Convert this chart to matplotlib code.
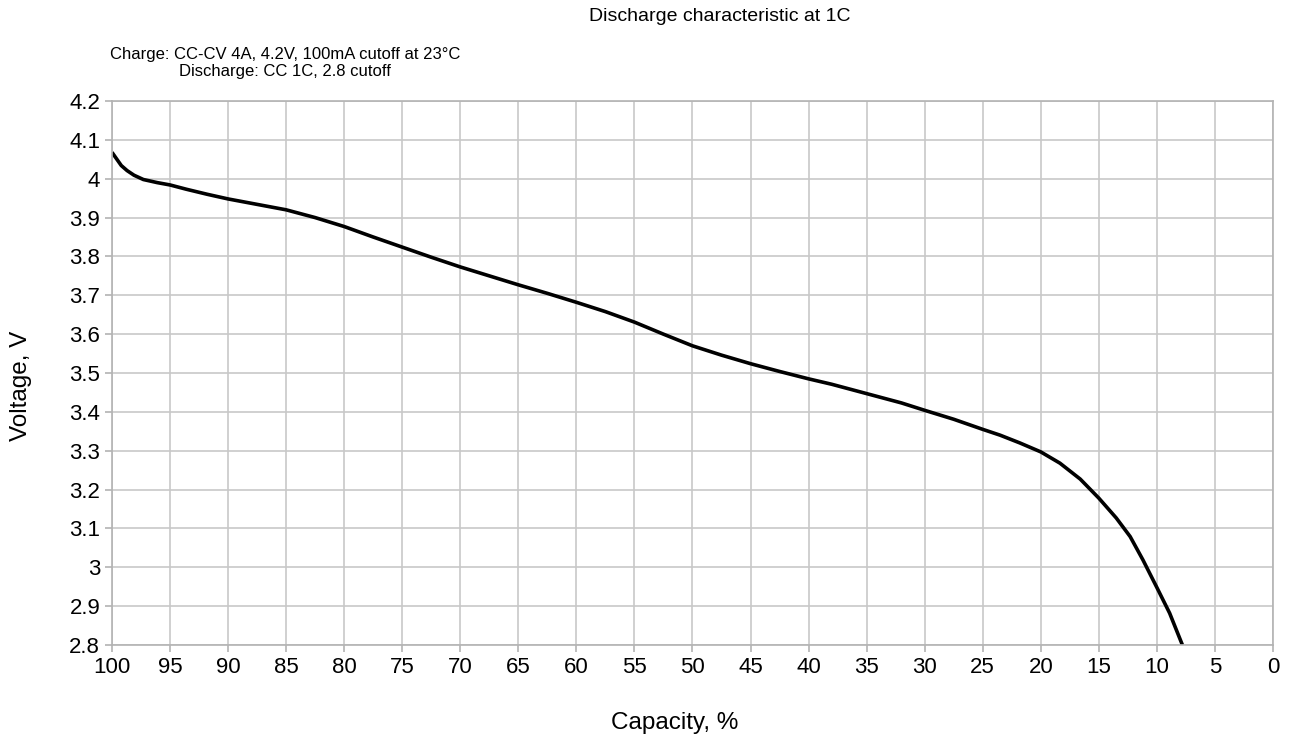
import matplotlib
matplotlib.use('Agg')
import matplotlib.pyplot as plt
import numpy as np

plt.rcParams['font.family'] = ['Liberation Sans', 'DejaVu Sans']

# capacity (%) vs voltage (V)
capacity = [100, 99.6, 99.2, 98.7, 98.1, 97.3, 96.1, 95, 93.6, 91.8, 90,
            87.5, 85, 82.5, 80, 77.5, 75, 72.5, 70, 67.5, 65, 62.5, 60,
            57.5, 55, 52.5, 50, 47.5, 45, 42.5, 40, 38, 35, 32, 30, 27.5,
            25, 23.5, 21.8, 20, 18.35, 16.6, 15, 13.5, 12.3, 11.2, 10,
            8.9, 7.8]
voltage = [4.068, 4.051, 4.034, 4.021, 4.009, 3.998, 3.99, 3.984, 3.973,
           3.96, 3.948, 3.934, 3.92, 3.9, 3.877, 3.85, 3.824, 3.798, 3.773,
           3.75, 3.727, 3.705, 3.682, 3.658, 3.631, 3.6, 3.57, 3.546,
           3.524, 3.504, 3.485, 3.471, 3.447, 3.423, 3.404, 3.381, 3.355,
           3.34, 3.32, 3.297, 3.268, 3.227, 3.178, 3.127, 3.079, 3.019,
           2.948, 2.882, 2.8]

xticks = np.arange(0, 101, 5)
yticks = np.arange(2.8, 4.21, 0.1)

fig = plt.figure(figsize=(12.93, 7.39), dpi=100)
ax = fig.add_axes([0.0866, 0.1272, 0.8979, 0.7361])

ax.plot(capacity, voltage, color='black', linewidth=2.6, solid_capstyle='butt',
        solid_joinstyle='round')

ax.set_xlim(100, 0)
ax.set_ylim(2.8, 4.2)
ax.set_xticks(xticks)
ax.set_yticks(yticks)
ax.set_yticklabels(['%g' % round(v, 1) for v in yticks])
ax.grid(True, color='#c8c8c8', linewidth=1.2)
ax.set_axisbelow(True)
for s in ax.spines.values():
    s.set_color('#b3b3b3')
    s.set_linewidth(1.2)
ax.tick_params(colors='#b3b3b3', labelcolor='black', labelsize=16,
               length=5, width=1.2)

ax.set_xlabel('Capacity, %', fontsize=17.5)
ax.set_ylabel('Voltage, V', fontsize=17.5)
# labels sit a bit off-centre in the original
ax.xaxis.set_label_coords(0.4845, -0.124)
ax.yaxis.set_label_coords(-0.069, 0.476)

fig.text(0.557, 0.978, 'Discharge characteristic at 1C', ha='center', va='center', fontsize=14)
fig.text(0.2205, 0.915, 'Charge: CC-CV 4A, 4.2V, 100mA cutoff at 23°C\nDischarge: CC 1C, 2.8 cutoff',
         ha='center', va='center', fontsize=12, linespacing=1.2)

fig.savefig('out.png', dpi=100)
